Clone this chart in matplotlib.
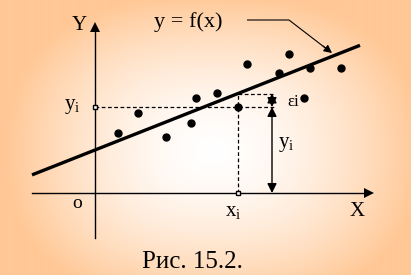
import numpy as np
import matplotlib.pyplot as plt

plt.rcParams['font.family'] = ['Liberation Serif', 'DejaVu Serif']
plt.rcParams['mathtext.fontset'] = 'custom'
plt.rcParams['mathtext.rm'] = 'Liberation Serif'

#%% data (origin at the axes crossing)
pts_x = [23, 43, 71, 96, 101, 122, 152, 194, 184, 215, 246, 209, 143]
pts_y = [60, 80, 56, 70, 95, 100, 129, 139, 120, 125, 125, 95, 86]

b0, b1 = 43, 0.395           # y = f(x) = b0 + b1*x
line_x = np.array([-63, 265])
line_y = b0 + b1 * line_x

xi, yi = 143, 86             # the highlighted point
fi = b0 + b1 * xi            # value of the line at xi
arr_x = 177                  # x of the yi / eps arrows

#%% figure
fig = plt.figure(figsize=(4.11, 2.75), dpi=100)
ax = fig.add_axes([0, 0, 1, 1])
ax.set_xlim(-95, 316)
ax.set_ylim(-82, 193)
ax.axis('off')

# background gradient, white in the middle, peach at the edges
gy, gx = np.mgrid[0:275, 0:411]
d = ((np.abs(gx - 212) / 205) ** 2.5 + (np.abs(gy - 150) / 155) ** 2.5) ** (1 / 2.5)
t = np.clip(d, 0, 1) ** 1.6
edge = np.array([255, 200, 150]) / 255
img = (1 - t[..., None]) * np.ones(3) + t[..., None] * edge
ax.imshow(img, extent=(-95, 316, -82, 193), aspect='auto', zorder=0)

# axes with arrow heads
ax.plot([-63, 272], [0, 0], color='k', lw=1)
ax.plot([0, 0], [-45, 166], color='k', lw=1)
ax.plot([274], [0], marker='>', color='k', ms=7, mew=0)
ax.plot([0], [166], marker='^', color='k', ms=7, mew=0)

# regression line and points
ax.plot(line_x, line_y, color='k', lw=2.4, solid_capstyle='butt')
ax.plot(pts_x, pts_y, 'o', color='k', ms=5)

# dashed helpers
ax.plot([0, arr_x + 3], [yi, yi], '--', color='k', lw=0.9, dashes=(3, 2))
ax.plot([xi, xi], [0, fi], '--', color='k', lw=0.9, dashes=(3, 2))
ax.plot([xi, arr_x + 3], [fi, fi], '--', color='k', lw=0.9, dashes=(3, 2))
ax.plot([0, xi], [yi, 0], 's', color='k', mfc='white', ms=3.5, mew=1)

# yi and eps arrows
ax.annotate('', xy=(arr_x, 0), xytext=(arr_x, yi),
            arrowprops=dict(arrowstyle='<|-|>', color='k', lw=1, mutation_scale=14,
                            shrinkA=0, shrinkB=0))
ax.annotate('', xy=(arr_x, fi), xytext=(arr_x, yi),
            arrowprops=dict(arrowstyle='<|-|>', color='k', lw=1, mutation_scale=14,
                            shrinkA=0, shrinkB=0))

# leader from y = f(x)
ax.plot([152, 194, 233], [173, 173, 143], color='k', lw=0.8, solid_capstyle='butt')
ax.annotate('', xy=(237, 140), xytext=(228, 147),
            arrowprops=dict(arrowstyle='-|>', color='k', lw=0.8, mutation_scale=12,
                            shrinkA=0, shrinkB=0))

# texts
ax.text(-16, 167, 'Y', fontsize=15, ha='center', va='center')
ax.text(93, 171, 'y = f(x)', fontsize=16, ha='center', va='center')
ax.text(-23, 86, r'$\mathrm{y}_{\mathrm{i}}$', fontsize=15, ha='center', va='center')
ax.text(191, 48, r'$\mathrm{y}_{\mathrm{i}}$', fontsize=15, ha='center', va='center')
ax.text(198, 91, 'εi', fontsize=12, ha='center', va='center')
ax.text(-18, -11, 'o', fontsize=14, ha='center', va='center')
ax.text(138, -20, r'$\mathrm{x}_{\mathrm{i}}$', fontsize=15, ha='center', va='center')
ax.text(262, -19, 'X', fontsize=15, ha='center', va='center')
ax.text(97, -69, 'Рис. 15.2.', fontsize=18, ha='center', va='center')

fig.savefig('out.png', dpi=100)
